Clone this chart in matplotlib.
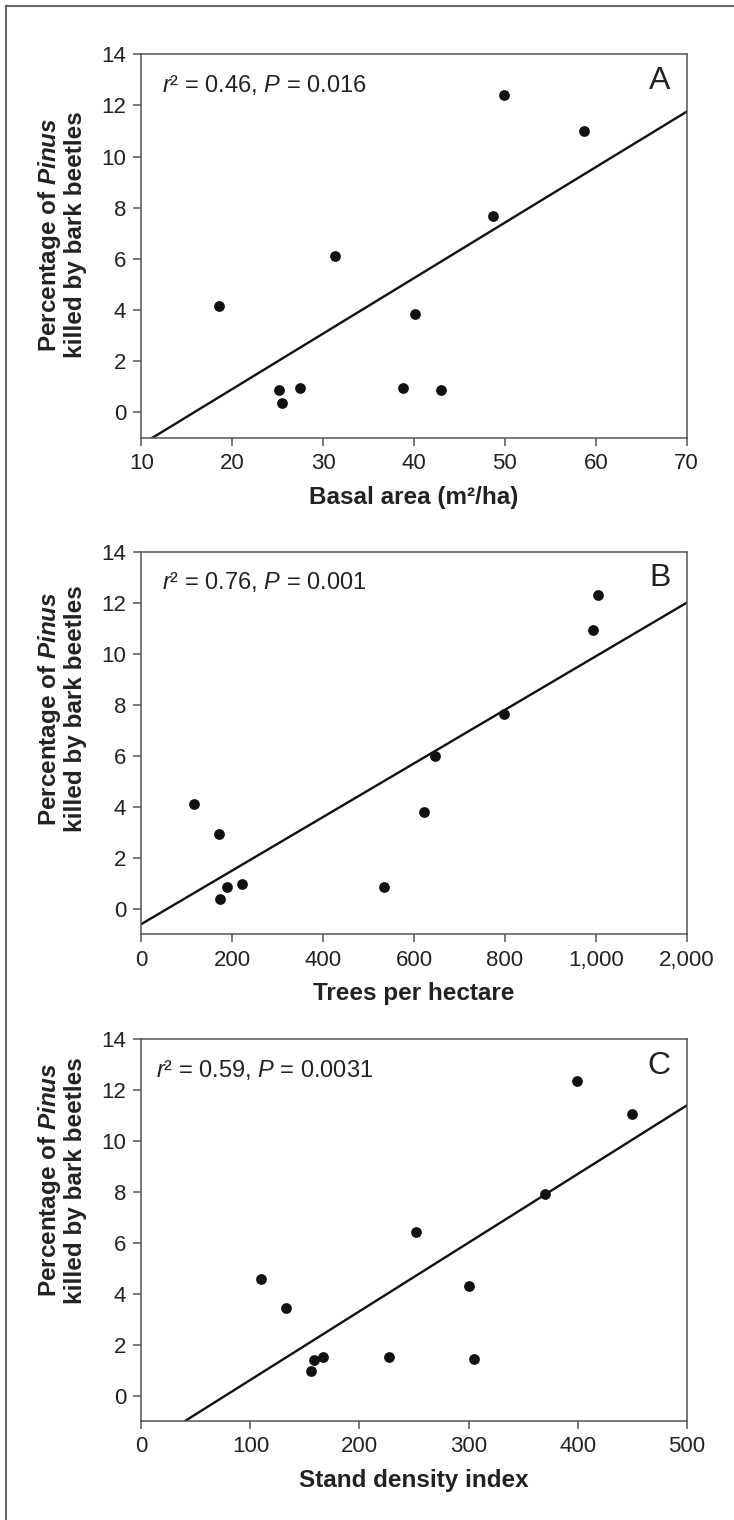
import numpy as np
import matplotlib
matplotlib.use('Agg')
import matplotlib.pyplot as plt
from matplotlib.lines import Line2D

plt.rcParams['font.family'] = ['Liberation Sans', 'DejaVu Sans']
plt.rcParams['mathtext.fontset'] = 'custom'
plt.rcParams['mathtext.rm'] = 'Liberation Sans'
plt.rcParams['mathtext.it'] = 'Liberation Sans:italic'
plt.rcParams['mathtext.bf'] = 'Liberation Sans:bold'
plt.rcParams['mathtext.bfit'] = 'Liberation Sans:italic:bold'

# panel A - basal area
basal = [18.5, 25.2, 25.5, 27.5, 31.3, 38.8, 40.1, 43.0, 48.7, 49.9, 58.7]
kill_a = [4.17, 0.85, 0.35, 0.94, 6.10, 0.96, 3.83, 0.85, 7.67, 12.41, 11.00]
fit_a = (-3.44, 0.2171)  # intercept, slope

# panel B - trees per hectare (axis positions, last tick labelled 2,000 in original)
trees = [116, 170, 189, 173, 221, 535, 622, 646, 799, 994, 1004]
kill_b = [4.11, 2.94, 0.86, 0.37, 0.97, 0.85, 3.79, 5.98, 7.65, 10.93, 12.30]
fit_b = (-0.60, 0.0105)
tree_ticks = [0, 200, 400, 600, 800, 1000, 1200]
tree_labels = ['0', '200', '400', '600', '800', '1,000', '2,000']

# panel C - stand density index
sdi = [110, 133, 158, 156, 167, 227, 252, 300, 305, 370, 399, 450]
kill_c = [4.57, 3.43, 1.40, 0.97, 1.50, 1.50, 6.42, 4.29, 1.43, 7.91, 12.36, 11.05]
fit_c = (-2.08, 0.02694)

stats = ['$r$² = 0.46, $P$ = 0.016', '$r$² = 0.76, $P$ = 0.001', '$r$² = 0.59, $P$ = 0.0031']
letters = ['A', 'B', 'C']
xlabels = ['Basal area (m²/ha)', 'Trees per hectare', 'Stand density index']
ylab = 'Percentage of $\\mathbfit{Pinus}$\nkilled by bark beetles'

spine_col = '#555555'
text_col = '#222222'

fig = plt.figure(figsize=(7.34, 15.2), dpi=100)
W, H = 734, 1520
left, right = 141.3, 686.7
tops = [54.3, 551.7, 1039]
bots = [437.7, 934.3, 1421]
ylab_y = [0.53, 0.59, 0.63]

panels = [
    (basal, kill_a, fit_a, (10, 70), list(range(10, 71, 10)), None),
    (trees, kill_b, fit_b, (0, 1200), tree_ticks, tree_labels),
    (sdi, kill_c, fit_c, (0, 500), list(range(0, 501, 100)), None),
]

for i, (xs, ys, fit, xlim, xt, xtl) in enumerate(panels):
    ax = fig.add_axes([left / W, 1 - bots[i] / H, (right - left) / W, (bots[i] - tops[i]) / H])
    ax.scatter(xs, ys, s=60, color='#111111', zorder=3, linewidths=0)
    xx = np.array(xlim, dtype=float)
    ax.plot(xx, fit[0] + fit[1] * xx, color='#111111', lw=1.7)
    ax.set_xlim(xlim)
    ax.set_ylim(-1, 14)
    ax.set_yticks(range(0, 15, 2))
    ax.set_xticks(xt)
    if xtl:
        ax.set_xticklabels(xtl)
    for s in ax.spines.values():
        s.set_color(spine_col)
        s.set_linewidth(1.1)
    ax.tick_params(direction='out', length=6, width=1.1, color=spine_col,
                   labelsize=16, labelcolor=text_col, pad=5)
    ax.text(0.038 if i < 2 else 0.027, 0.92, stats[i], transform=ax.transAxes,
            fontsize=17, color=text_col, ha='left', va='center')
    ax.text(0.97, 0.93, letters[i], transform=ax.transAxes, fontsize=23,
            color=text_col, ha='right', va='center')
    ax.set_xlabel(xlabels[i], fontsize=17.5, fontweight='bold', color=text_col, va='center')
    ax.xaxis.set_label_coords(0.5, -0.155)
    ax.set_ylabel(ylab, fontsize=17.5, fontweight='bold', color=text_col,
                  ha='center', va='center', linespacing=1.05)
    ax.yaxis.set_label_coords(-0.147, ylab_y[i])

# outer frame (left and top edges)
fx = 6 / W
fy = 1 - 6 / H
fig.add_artist(Line2D([fx, fx], [0, fy], color='#666666', lw=1.5, transform=fig.transFigure))
fig.add_artist(Line2D([fx, 1], [fy, fy], color='#666666', lw=1.5, transform=fig.transFigure))

fig.savefig('out.png', dpi=100, facecolor='white')
